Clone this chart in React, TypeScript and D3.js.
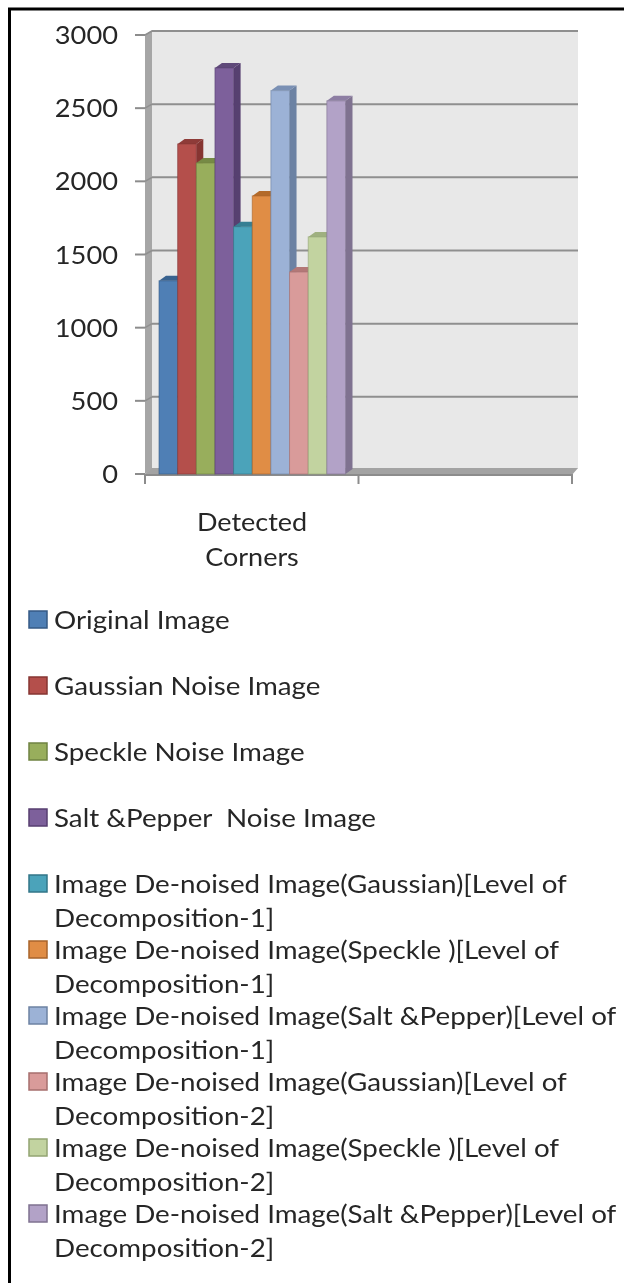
import React from "react";
import * as d3 from "d3";

const seriesNames = ["Original Image","Gaussian Noise Image","Speckle Noise Image","Salt &Pepper Noise Image","Image De-noised Image(Gaussian)[Level of Decomposition-1]","Image De-noised Image(Speckle )[Level of Decomposition-1]","Image De-noised Image(Salt &Pepper)[Level of Decomposition-1]","Image De-noised Image(Gaussian)[Level of Decomposition-2]","Image De-noised Image(Speckle )[Level of Decomposition-2]","Image De-noised Image(Salt &Pepper)[Level of Decomposition-2]"];
const values = [1320, 2255, 2125, 2775, 1690, 1900, 2620, 1380, 1620, 2550];
const frontColors = ["#4f7fb5","#b44f4c","#98ae5c","#7d619b","#4ba3ba","#e08d45","#9cb2d6","#d99b9a","#c2d3a0","#b2a2c7"];
const topColors = ["#39628f","#8e3a38","#768a45","#5f4879","#367f93","#b36a2a","#7a90b4","#b37877","#9fb080","#8d7ea3"];
const sideColors = ["#345a85","#863533","#6f8341","#573f70","#327688","#a8632a","#6c82a3","#a66f6e","#93a473","#7f7290"];
const yTicks = [0, 500, 1000, 1500, 2000, 2500, 3000];
const legendLines = [["Original Image"],["Gaussian Noise Image"],["Speckle Noise Image"],["Salt &Pepper  Noise Image"],["Image De-noised Image(Gaussian)[Level of","Decomposition-1]"],["Image De-noised Image(Speckle )[Level of","Decomposition-1]"],["Image De-noised Image(Salt &Pepper)[Level of","Decomposition-1]"],["Image De-noised Image(Gaussian)[Level of","Decomposition-2]"],["Image De-noised Image(Speckle )[Level of","Decomposition-2]"],["Image De-noised Image(Salt &Pepper)[Level of","Decomposition-2]"]];
const legendY = [620, 686, 752, 818, 884, 950, 1016, 1082, 1148, 1214];
const categoryLines = ["Detected", "Corners"];

const FONT = "Lato, 'Open Sans', sans-serif";
const INK = "#262626";

export default function App() {
  const y = d3.scaleLinear().domain([0, 3000]).range([474, 35]);
  const x = d3.scaleBand<number>().domain(d3.range(values.length)).range([159, 345.5]).paddingInner(0);
  const xCat = d3.scaleLinear().domain([0, 2]).range([145, 572]);
  const dx = 7, dy = 5;
  const wallDx = 7, wallDy = 5;
  return (
    <svg width={624} height={1283} style={{ position: "absolute", left: 0, top: 0, display: "block", background: "#fff" }}>
      <defs>
        <filter id="soft" x="-5%" y="-5%" width="110%" height="110%">
          <feGaussianBlur stdDeviation="0.7" />
        </filter>
      </defs>
      <rect x={0} y={0} width={624} height={1283} fill="#fff" />
      <g filter="url(#soft)">
        <rect x={145 + wallDx} y={35 - wallDy + 1} width={578 - 145 - wallDx} height={444 - 6} fill="#e8e8e8" />
        <polygon points={`145,35 ${145 + wallDx},${35 - wallDy} ${145 + wallDx},${474 - wallDy} 145,474`} fill="#a6a6a6" />
        <polygon points={`145,474 ${145 + wallDx},468 578,468 572,475`} fill="#a3a3a3" />
        <line x1={145} x2={572} y1={475} y2={475} stroke="#8c8c8c" strokeWidth={2} />
        {yTicks.map((t) => (
          <g key={t}>
            {t > 0 && <line x1={145 + wallDx} x2={578} y1={y(t) - wallDy + 1} y2={y(t) - wallDy + 1} stroke="#8f8f8f" strokeWidth={2} />}
            {t > 0 && <line x1={145} x2={145 + wallDx} y1={y(t)} y2={y(t) - wallDy + 1} stroke="#8f8f8f" strokeWidth={1.5} />}
            <line x1={135} x2={145} y1={y(t)} y2={y(t)} stroke="#8c8c8c" strokeWidth={2} />
          </g>
        ))}
        {[0, 1, 2].map((i) => (
          <line key={i} x1={xCat(i)} x2={xCat(i)} y1={474} y2={484} stroke="#8c8c8c" strokeWidth={2} />
        ))}
        {values.map((v, i) => {
          const x0 = x(i)!;
          const x1 = x0 + x.bandwidth();
          const yt = y(v);
          const yb = y(0);
          return (
            <g key={i}>
              <polygon points={`${x1},${yt} ${x1 + dx},${yt - dy} ${x1 + dx},${yb - dy} ${x1},${yb}`} fill={sideColors[i]} />
              <polygon points={`${x0},${yt} ${x0 + dx},${yt - dy} ${x1 + dx},${yt - dy} ${x1},${yt}`} fill={topColors[i]} />
              <rect x={x0} y={yt} width={x.bandwidth()} height={yb - yt} fill={frontColors[i]} stroke={sideColors[i]} strokeOpacity={0.6} strokeWidth={1} />
            </g>
          );
        })}
        <path d="M624,9 H9.5 V1283" fill="none" stroke="#000" strokeWidth={3} />
        {legendY.map((ly, i) => (
          <rect key={i} x={29} y={ly - 9} width={18} height={17} fill={frontColors[i]} stroke={sideColors[i]} strokeWidth={1.5} />
        ))}
      </g>
      <g fontFamily={FONT} fill={INK} fontSize={25} style={{ filter: "blur(0.4px)" }}>
        {yTicks.map((t) => (
          <text key={t} transform={`translate(118,${y(t)}) scale(1.09,1)`} dy="0.36em" textAnchor="end">{t}</text>
        ))}
        {categoryLines.map((l, i) => (
          <text key={l} transform={`translate(252,${531 + i * 35}) scale(1.08,1)`} textAnchor="middle">{l}</text>
        ))}
        {legendLines.map((lines, i) => lines.map((l, j) => (
          <text key={j} transform={`translate(54,${legendY[i] + 9 + j * 34}) scale(1.11,1)`} xmlSpace="preserve">{l}</text>
        )))}
      </g>
    </svg>
  );
}
